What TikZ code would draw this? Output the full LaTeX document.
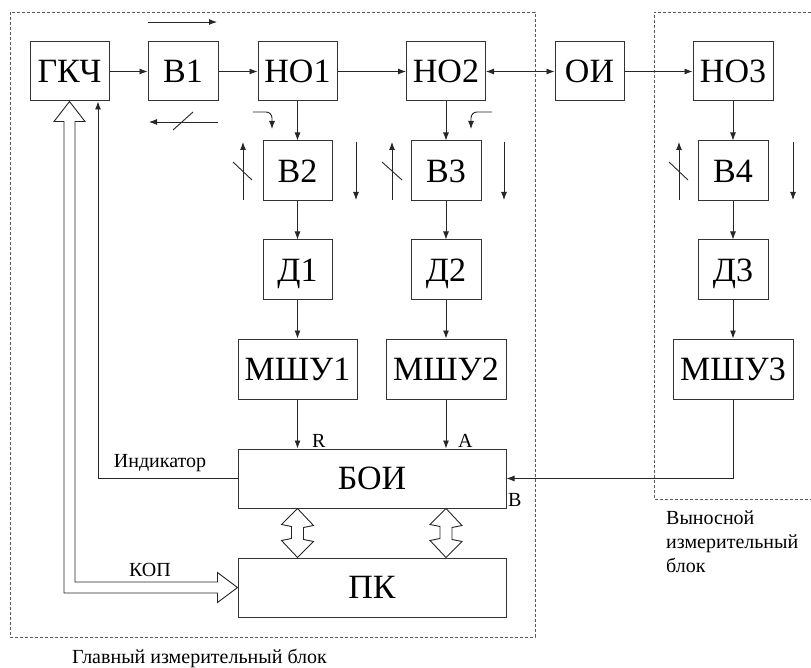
\documentclass[tikz,border=0pt]{standalone}
\usepackage{fontspec}
\setmainfont{Liberation Serif}
\usetikzlibrary{arrows.meta,calc}
\begin{document}
\begin{tikzpicture}[x=1pt,y=-1pt,
  blk/.style={draw=black!80,line width=1pt,inner sep=0pt,
    font=\fontsize{34}{34}\selectfont,text height=22.5pt,text depth=0pt,
    minimum height=59pt},
  arr/.style={draw=black!85,line width=0.9pt,-{Latex[length=8pt,width=6pt]}},
  darr/.style={draw=black!85,line width=0.9pt,{Latex[length=8pt,width=6pt]}-{Latex[length=8pt,width=6pt]}},
  ln/.style={draw=black!85,line width=0.9pt},
  hol/.style={draw=black!85,line width=0.9pt,fill=white,line join=miter},
  dsh/.style={draw=black!65,line width=0.8pt,dash pattern=on 3pt off 2pt},
  lbl/.style={font=\fontsize{20}{24}\selectfont,inner sep=0pt}
]
\useasboundingbox (0,0) rectangle (811,668);

% dashed frames
\draw[dsh] (10,12) rectangle (535,637);
\draw[dsh] (811,12) -- (654,12) -- (654,499) -- (811,499);

% blocks
\node[blk,minimum width=79pt] (gkc) at (69.5,71.5) {ГКЧ};
\node[blk,minimum width=70pt] (b1) at (183,71.5) {В1};
\node[blk,minimum width=79pt] (ho1) at (297.5,71.5) {НО1};
\node[blk,minimum width=79pt] (ho2) at (446,71.5) {НО2};
\node[blk,minimum width=69pt] (oi) at (589.5,71.5) {ОИ};
\node[blk,minimum width=80pt] (ho3) at (733,71.5) {НО3};

\node[blk,minimum width=69pt,minimum height=60pt] (b2) at (297.5,171) {В2};
\node[blk,minimum width=70pt,minimum height=60pt] (b3) at (446,171) {В3};
\node[blk,minimum width=70pt,minimum height=60pt] (b4) at (733,171) {В4};

\node[blk,minimum width=69pt,minimum height=60pt] (d1) at (297.5,270) {Д1};
\node[blk,minimum width=70pt,minimum height=60pt] (d2) at (446,270) {Д2};
\node[blk,minimum width=70pt,minimum height=60pt] (d3) at (733,270) {Д3};

\node[blk,minimum width=119pt,minimum height=60pt] (m1) at (297.5,369) {МШУ1};
\node[blk,minimum width=120pt,minimum height=60pt] (m2) at (446,369) {МШУ2};
\node[blk,minimum width=120pt,minimum height=60pt] (m3) at (733,369) {МШУ3};

\node[blk,minimum width=268pt] (boi) at (372,478.5) {БОИ};
\node[blk,minimum width=268pt] (pk) at (372,587.5) {ПК};

% top chain
\draw[arr] (gkc) -- (b1);
\draw[arr] (b1) -- (ho1);
\draw[arr] (ho1) -- (ho2);
\draw[darr] (ho2) -- (oi);
\draw[arr] (oi) -- (ho3);

% columns
\draw[arr] (ho1) -- (b2);
\draw[arr] (b2) -- (d1);
\draw[arr] (d1) -- (m1);
\draw[arr] (m1.south) -- (m1.south |- boi.north);
\draw[arr] (ho2) -- (b3);
\draw[arr] (b3) -- (d2);
\draw[arr] (d2) -- (m2);
\draw[arr] (m2.south) -- (m2.south |- boi.north);
\draw[arr] (ho3) -- (b4);
\draw[arr] (b4) -- (d3);
\draw[arr] (d3) -- (m3);
\draw[arr] (m3.south) |- (boi.east);

% indicator feedback
\coordinate (indx) at (98,0);
\draw[arr] (boi.west) -| (gkc.south -| indx);

% hollow KOP arrow
\draw[hol] (pk.west) -- ++(-20,-15) -- ++(0,9.5)
  -- ($(gkc.south |- pk.west)+(5.5,-5.5)$) -- ($(gkc.south)+(5.5,20)$)
  -- ++(10,0) -- (gkc.south) -- ++(-15.5,20) -- ++(10,0)
  -- ($(gkc.south |- pk.west)+(-5.5,5.5)$) -- ($(pk.west)+(-20,5.5)$)
  -- ++(0,9.5) -- cycle;

% hollow double arrows BOI <-> PK
\foreach \c in {m1,m2}{
  \draw[hol] (boi.south -| \c.south) -- ++(16,17) -- ++(-10,2) -- ++(0,12)
    -- ++(10,2) -- (pk.north -| \c.south) -- ++(-16,-17) -- ++(10,-2)
    -- ++(0,-12) -- ++(-10,-2) -- cycle;
}

% annotation arrows
\draw[arr] (148,22) -- (217,22);
\draw[arr] (218,122) -- (149,122);
\draw[ln] (173,130) -- (193,112);
\draw[arr,rounded corners=6pt] (253,112) -- (272,112) -- (272,129);
\draw[arr,rounded corners=6pt] (492,112) -- (471,112) -- (471,129);

\draw[arr] (243,200) -- (243,142);
\draw[ln] (233,162) -- (252,180);
\draw[arr] (356,142) -- (356,200);

\draw[arr] (392,200) -- (392,142);
\draw[ln] (382,162) -- (402,180);
\draw[arr] (504,142) -- (504,200);

\draw[arr] (679,200) -- (679,142);
\draw[ln] (669,162) -- (688,180);
\draw[arr] (793,142) -- (793,200);

% labels
\node[lbl,anchor=base] (lind) at (160,467) {Индикатор};
\node[lbl,anchor=base] (lkop) at (150,576) {КОП};
\node[lbl,anchor=base west] (lr) at (312,447) {R};
\node[lbl,anchor=base west] (la) at (458,447) {A};
\node[lbl,anchor=base west] (lb) at (508,506) {B};
\node[lbl,anchor=north west,align=left] (lrem) at (666,511) {Выносной\\измерительный\\блок};
\node[lbl,anchor=base west] (lmain) at (72,663) {Главный измерительный блок};
\end{tikzpicture}
\end{document}
